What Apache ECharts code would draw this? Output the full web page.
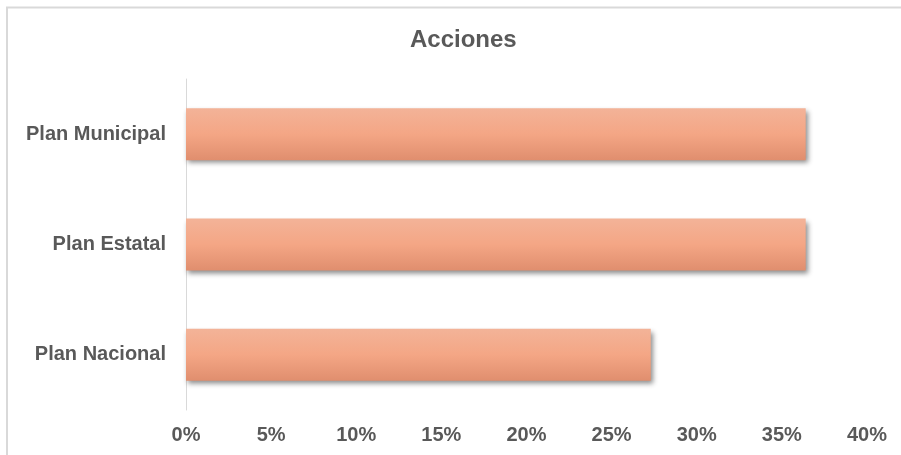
<!DOCTYPE html>
<html>
<head>
<meta charset="utf-8">
<script src="https://cdn.jsdelivr.net/npm/echarts@6/dist/echarts.min.js"></script>
<style>
  html, body { margin: 0; padding: 0; background: #ffffff; }
  #chart { width: 901px; height: 455px; }
</style>
</head>
<body>
<div id="chart"></div>
<script>
// Categories, listed bottom to top as the category axis draws them
const categories = ['Plan Nacional', 'Plan Estatal', 'Plan Municipal'];
// Share of actions per plan, in percent
const values = [27.3, 36.4, 36.4];
// Value axis range and step, in percent
const axisMin = 0;
const axisMax = 40;
const axisStep = 5;

const textColor = '#595959';
const fontFamily = '"Liberation Sans", Arial, sans-serif';

const chart = echarts.init(document.getElementById('chart'), null, { renderer: 'canvas' });

chart.setOption({
  backgroundColor: '#ffffff',
  animation: false,
  title: {
    text: 'Acciones',
    left: 405,
    top: 23,
    textStyle: { color: textColor, fontSize: 24, fontWeight: 'bold', fontFamily: fontFamily }
  },
  graphic: [
    // chart area frame (top and left edges)
    { type: 'line', shape: { x1: 6, y1: 7.5, x2: 901, y2: 7.5 }, style: { stroke: '#d9d9d9', lineWidth: 2 } },
    { type: 'line', shape: { x1: 7, y1: 7, x2: 7, y2: 455 }, style: { stroke: '#d9d9d9', lineWidth: 2 } }
  ],
  grid: { left: 186, right: 34, top: 79, bottom: 45, containLabel: false },
  xAxis: {
    type: 'value',
    min: axisMin,
    max: axisMax,
    interval: axisStep,
    axisLine: { show: false },
    axisTick: { show: false },
    splitLine: { show: false },
    axisLabel: {
      color: textColor,
      fontSize: 20,
      fontWeight: 'bold',
      fontFamily: fontFamily,
      margin: 15,
      formatter: v => v + '%'
    }
  },
  yAxis: {
    type: 'category',
    data: categories,
    axisLine: { show: true, lineStyle: { color: '#d9d9d9', width: 1 } },
    axisTick: { show: false },
    axisLabel: {
      color: textColor,
      fontSize: 20,
      fontWeight: 'bold',
      fontFamily: fontFamily,
      margin: 20
    }
  },
  series: [{
    type: 'bar',
    data: values,
    barWidth: 52,
    itemStyle: {
      color: new echarts.graphic.LinearGradient(0, 0, 0, 1, [
        { offset: 0, color: '#f3b398' },
        { offset: 0.5, color: '#f4a685' },
        { offset: 1, color: '#e08e6e' }
      ]),
      shadowColor: 'rgba(0,0,0,0.45)',
      shadowBlur: 5,
      shadowOffsetX: 2,
      shadowOffsetY: 3
    }
  }]
});
</script>
</body>
</html>
